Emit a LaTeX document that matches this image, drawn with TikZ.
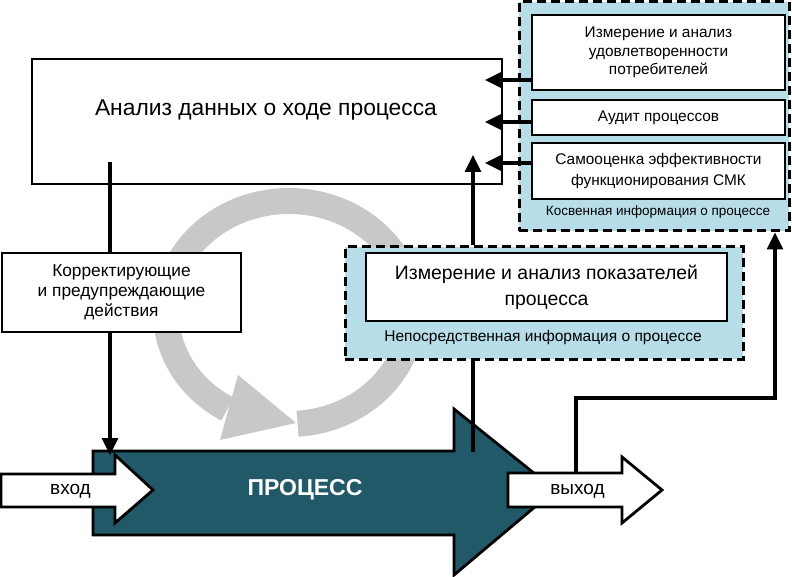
\documentclass[tikz,border=0pt]{standalone}
\usepackage{fontspec}
\setmainfont{Liberation Sans}
\usetikzlibrary{arrows.meta}
\definecolor{proc}{HTML}{215968}
\definecolor{lblue}{HTML}{B7DDE8}
\definecolor{cgray}{HTML}{C8C8C8}
\begin{document}
\begin{tikzpicture}[x=1pt,y=-1pt,
  box/.style={draw, line width=2.6pt, fill=white, align=center, inner sep=0pt},
  grp/.style={draw, line width=3pt, dash pattern=on 9pt off 5pt, fill=lblue, inner sep=0pt},
  conn/.style={line width=3.2pt},
  arr/.style={conn, -{Triangle[length=17pt,width=16pt]}},
  bigarrow/.style={draw, line width=2.8pt, line join=miter},
  txt/.style={inner sep=0pt, align=center}
]
\useasboundingbox (0,0) rectangle (792,577);

% grey cycle arrow
\draw[cgray, line width=26pt] (289,312.5) ++(86:123 and 111.5)
  arc[start angle=86, end angle=-240, x radius=123, y radius=111.5];
\fill[cgray] (238,375) -- (220,440) -- (296,423) -- cycle;

% top-right group
\node[grp, minimum width=270pt, minimum height=229pt] (g1) at (654,116.5) {};
\node[box, minimum width=253pt, minimum height=75pt, font=\fontsize{15.4}{18.5}\selectfont] (b1) at (658.5,52.5)
  {Измерение и анализ\\удовлетворенности\\потребителей};
\node[box, minimum width=253pt, minimum height=35pt, font=\fontsize{15.4}{18.5}\selectfont] (b2) at (658.5,117.5)
  {Аудит процессов};
\node[box, minimum width=253pt, minimum height=56pt, font=\fontsize{15.4}{21}\selectfont] (b3) at (658.5,171)
  {Самооценка эффективности\\функционирования СМК};
\node[txt, font=\fontsize{13.5}{15}\selectfont] (l1) at (658,212) {Косвенная информация о процессе};

% big analysis box
\node[box, minimum width=470pt, minimum height=125pt] (an) at (267,121.5) {};
\node[txt, font=\fontsize{22.8}{26}\selectfont] (ant) at (266,110) {Анализ данных о ходе процесса};

% corrective actions box
\node[box, minimum width=239pt, minimum height=79pt, font=\fontsize{17.3}{20}\selectfont] (kor) at (121.5,292.5)
  {Корректирующие\\и предупреждающие\\действия};

% middle group
\node[grp, minimum width=398pt, minimum height=112pt] (mg) at (544,303) {};
\node[box, minimum width=361pt, minimum height=68pt, font=\fontsize{19.4}{26}\selectfont] (mi) at (546.5,287)
  {Измерение и анализ показателей\\процесса};
\node[txt, font=\fontsize{15.5}{17}\selectfont] (l2) at (543,337) {Непосредственная информация о процессе};

% process arrow
\draw[bigarrow, fill=proc] (93,451) -- (454,451) -- (454,409) -- (555,490) -- (454,575) -- (454,535) -- (93,535) -- cycle;
\node[txt, text=white, font=\fontsize{23}{26}\selectfont\bfseries] (pr) at (305,490) {ПРОЦЕСС};

% input arrow
\draw[bigarrow, fill=white] (1,474) -- (115,474) -- (115,455) -- (153,490) -- (115,523) -- (115,507) -- (1,507) -- cycle;
\node[txt, font=\fontsize{19}{22}\selectfont] (in) at (70.5,491) {вход};

% output arrow
\draw[bigarrow, fill=white] (508,473) -- (622,473) -- (622,457) -- (662,490) -- (622,523) -- (622,507) -- (508,507) -- cycle;
\node[txt, font=\fontsize{19}{22}\selectfont] (out) at (577.5,491) {выход};

% connectors
\coordinate (a1) at (110,162);
\coordinate (pin) at (110,455);
\draw[conn] (a1) -- (a1 |- kor.north);
\draw[arr] (kor.south -| a1) -- (pin);

\coordinate (p1) at (473,452);
\coordinate (ptip) at (473,155);
\draw[conn] (p1) -- (p1 |- mg.south);
\draw[arr] (mg.north -| p1) -- (ptip);

\coordinate (o1) at (576,473);
\coordinate (o2) at (576,398);
\coordinate (o3) at (775,398);
\draw[arr] (o1) -- (o2) -- (o3) -- (o3 |- g1.south);

\draw[arr] (b1.west |- 0,80) -- (485,80);
\draw[arr] (b2.west |- 0,122) -- (485,122);
\draw[arr] (b3.west |- 0,163) -- (485,163);
\end{tikzpicture}
\end{document}
